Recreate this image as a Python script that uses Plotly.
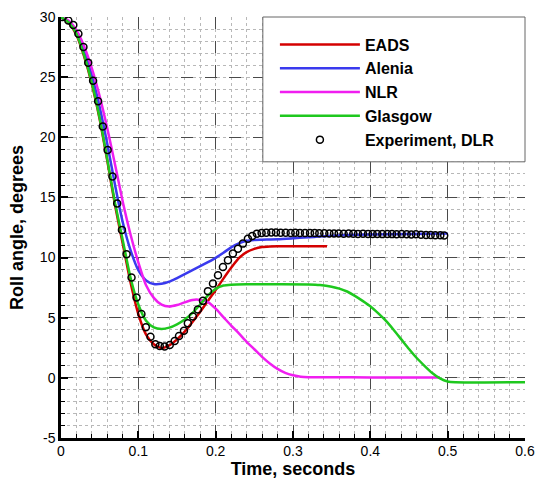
import plotly.graph_objects as go

# ---------------- data ----------------
eads_t = [0, 0.01, 0.02, 0.03, 0.04, 0.05, 0.06, 0.07, 0.08, 0.09, 0.1, 0.11, 0.12, 0.13, 0.14,
          0.15, 0.16, 0.17, 0.18, 0.19, 0.2, 0.21, 0.22, 0.23, 0.24, 0.25, 0.26, 0.27, 0.28, 0.3,
          0.32, 0.344]
eads_y = [30, 29.5, 28.5, 26.7, 24.4, 21.5, 18.0, 14.3, 11.1, 7.9, 5.3, 3.6, 2.8, 2.48, 2.7,
          3.2, 3.85, 4.65, 5.5, 6.4, 7.3, 8.25, 9.15, 9.95, 10.45, 10.72, 10.87, 10.92, 10.94, 10.94,
          10.94, 10.94]

alenia_t = [0, 0.01, 0.02, 0.03, 0.04, 0.05, 0.06, 0.07, 0.08, 0.09, 0.1, 0.11, 0.12, 0.13, 0.14,
            0.15, 0.16, 0.17, 0.18, 0.19, 0.2, 0.21, 0.22, 0.23, 0.24, 0.25, 0.26, 0.28, 0.3, 0.35,
            0.4, 0.45, 0.5]
alenia_y = [30, 29.6, 28.75, 27.2, 25.1, 22.5, 19.4, 16.0, 12.9, 10.6, 8.95, 8.1, 7.8, 7.82, 8.0,
            8.3, 8.62, 8.95, 9.28, 9.62, 9.98, 10.4, 10.85, 11.18, 11.4, 11.47, 11.49, 11.52, 11.6, 11.82,
            11.92, 11.97, 12.0]

nlr_t = [0, 0.01, 0.02, 0.03, 0.04, 0.05, 0.06, 0.07, 0.08, 0.09, 0.1, 0.11, 0.12, 0.13, 0.14,
         0.15, 0.16, 0.17, 0.175, 0.18, 0.19, 0.2, 0.21, 0.22, 0.23, 0.24, 0.25, 0.26, 0.27, 0.28,
         0.29, 0.3, 0.31, 0.32, 0.35, 0.4, 0.45, 0.49]
nlr_y = [30, 29.7, 28.9, 27.55, 25.7, 23.4, 20.7, 17.7, 14.6, 11.9, 9.6, 7.7, 6.65, 6.08, 5.93,
         6.05, 6.28, 6.47, 6.52, 6.48, 6.3, 5.75, 5.05, 4.35, 3.7, 3.0, 2.38, 1.75, 1.2, 0.75,
         0.42, 0.22, 0.1, 0.06, 0.05, 0.04, 0.03, 0.02]

glasgow_t = [0, 0.01, 0.02, 0.03, 0.04, 0.05, 0.06, 0.07, 0.08, 0.09, 0.1, 0.11, 0.12, 0.13, 0.14,
             0.15, 0.16, 0.17, 0.18, 0.19, 0.2, 0.21, 0.22, 0.24, 0.28, 0.32, 0.335, 0.35, 0.36, 0.37,
             0.38, 0.39, 0.4, 0.41, 0.42, 0.43, 0.44, 0.45, 0.46, 0.47, 0.48, 0.49, 0.5, 0.51, 0.6]
glasgow_y = [30, 29.55, 28.6, 26.8, 24.5, 21.6, 18.1, 14.5, 11.4, 8.3, 6.1, 4.75, 4.2, 4.07, 4.18,
             4.45, 4.85, 5.4, 6.1, 6.85, 7.4, 7.68, 7.75, 7.78, 7.78, 7.77, 7.72, 7.58, 7.42, 7.18,
             6.82, 6.4, 5.95, 5.38, 4.75, 4.0, 3.2, 2.4, 1.65, 1.0, 0.4, -0.05, -0.3, -0.36, -0.37]

exp_t = [0.002, 0.0095, 0.0159, 0.0225, 0.029, 0.0352, 0.0415, 0.048, 0.054, 0.0603,
         0.0665, 0.0727, 0.0788, 0.0848, 0.0912, 0.0977, 0.104, 0.1097, 0.1157, 0.122,
         0.1277, 0.134, 0.1406, 0.147, 0.1526, 0.159, 0.164, 0.1705, 0.177, 0.1836,
         0.19, 0.1965, 0.203, 0.2094, 0.2159, 0.2223, 0.2288, 0.2352, 0.2417, 0.2473,
         0.2533, 0.2594, 0.2655, 0.272, 0.278, 0.284, 0.2905, 0.297, 0.303, 0.309,
         0.3155, 0.322, 0.328, 0.334, 0.3405, 0.347, 0.353, 0.359, 0.3655, 0.372,
         0.378, 0.384, 0.3905, 0.397, 0.403, 0.409, 0.4155, 0.422, 0.428, 0.434,
         0.4405, 0.447, 0.453, 0.459, 0.4655, 0.472, 0.478, 0.484, 0.4905, 0.4955]
exp_y = [30.0, 29.7, 29.33, 28.6, 27.5, 26.2, 24.7, 23.0, 20.9, 18.95,
         16.74, 14.5, 12.3, 10.27, 8.34, 6.68, 5.3, 4.2, 3.42, 2.79,
         2.65, 2.6, 2.73, 3.07, 3.48, 3.92, 4.53, 5.1, 5.68, 6.4,
         7.21, 7.85, 8.53, 9.22, 9.78, 10.33, 10.74, 11.16, 11.57, 11.79,
         11.99, 12.04, 12.07, 12.08, 12.08, 12.07, 12.06, 12.05, 12.06, 12.05,
         12.04, 12.04, 12.05, 12.03, 12.02, 12.0, 12.01, 12.0, 11.98, 12.0,
         11.99, 11.97, 11.98, 11.97, 11.96, 11.97, 11.95, 11.96, 11.95, 11.94,
         11.95, 11.93, 11.92, 11.93, 11.9, 11.88, 11.87, 11.86, 11.85, 11.83]

x_ticks = [0, 0.1, 0.2, 0.3, 0.4, 0.5, 0.6]
x_ticktext = ["0", "0.1", "0.2", "0.3", "0.4", "0.5", "0.6"]
y_ticks = [-5, 0, 5, 10, 15, 20, 25, 30]
y_ticktext = ["-5", "0", "5", "10", "15", "20", "25", "30"]

series = [
    ("EADS", eads_t, eads_y, "#d40000"),
    ("Alenia", alenia_t, alenia_y, "#3a3aee"),
    ("NLR", nlr_t, nlr_y, "#f01ef0"),
    ("Glasgow", glasgow_t, glasgow_y, "#1ec81e"),
]

# ---------------- figure ----------------
fig = go.Figure()
for name, t, y, col in series:
    fig.add_trace(go.Scatter(x=t, y=y, mode="lines", name=name,
                             line=dict(color=col, width=2.5, shape="spline", smoothing=0.6)))

fig.add_trace(go.Scatter(x=exp_t, y=exp_y, mode="markers", name="Experiment, DLR",
                         marker=dict(symbol="circle-open", size=7, color="black",
                                     line=dict(width=1.5, color="black"))))

FONT = "Liberation Sans, Arial, Helvetica, sans-serif"

axis_common = dict(
    ticks="inside", ticklen=7, tickwidth=2, tickcolor="black",
    showline=True, linewidth=2.5, linecolor="black",
    showgrid=True, gridcolor="#4a4a4a", gridwidth=1, griddash="12px,12px",
    zeroline=False, automargin=False, ticklabeloverflow="allow",
    tickfont=dict(size=14, family=FONT, color="black"),
)

fig.update_layout(
    width=535, height=482,
    margin=dict(l=61, r=10, t=17, b=44, autoexpand=False),
    plot_bgcolor="white", paper_bgcolor="white",
    font=dict(family=FONT, color="black", size=14),
    xaxis=dict(range=[0, 0.6], tickvals=x_ticks, ticktext=x_ticktext,
               ticklabelstandoff=-2,
               minor=dict(dtick=0.02, tick0=0, ticks="inside", ticklen=4, tickwidth=1,
                          tickcolor="black", showgrid=True, gridcolor="#b8b8b8",
                          gridwidth=1, griddash="dot"),
               title=dict(text="Time, seconds", standoff=0,
                          font=dict(size=18, family=FONT, weight="bold")),
               **axis_common),
    yaxis=dict(range=[-5, 30], tickvals=y_ticks, ticktext=y_ticktext,
               minor=dict(dtick=1, tick0=0, ticks="inside", ticklen=4, tickwidth=1,
                          tickcolor="black", showgrid=True, gridcolor="#b8b8b8",
                          gridwidth=1, griddash="dot"),
               title=dict(text="Roll angle, degrees", standoff=12,
                          font=dict(size=18, family=FONT, weight="bold")),
               **axis_common),
    showlegend=True,
    legend=dict(x=0.461, y=0.975, xanchor="left", yanchor="top",
                bgcolor="rgba(0,0,0,0)", borderwidth=0, itemwidth=80,
                font=dict(size=16, family=FONT, weight="bold", color="black"),
                tracegroupgap=0),
    shapes=[dict(type="rect", xref="paper", yref="paper", x0=0.435, x1=1.0, y0=0.656, y1=1.0,
                 line=dict(color="#666666", width=1), fillcolor="white", layer="above")],
)

# remove the browser's default 8px body margin so the figure fills the window
fig.write_html("out.html",
               config={"displayModeBar": False},
               post_script="document.body.style.margin='0px';document.body.style.overflow='hidden';")
